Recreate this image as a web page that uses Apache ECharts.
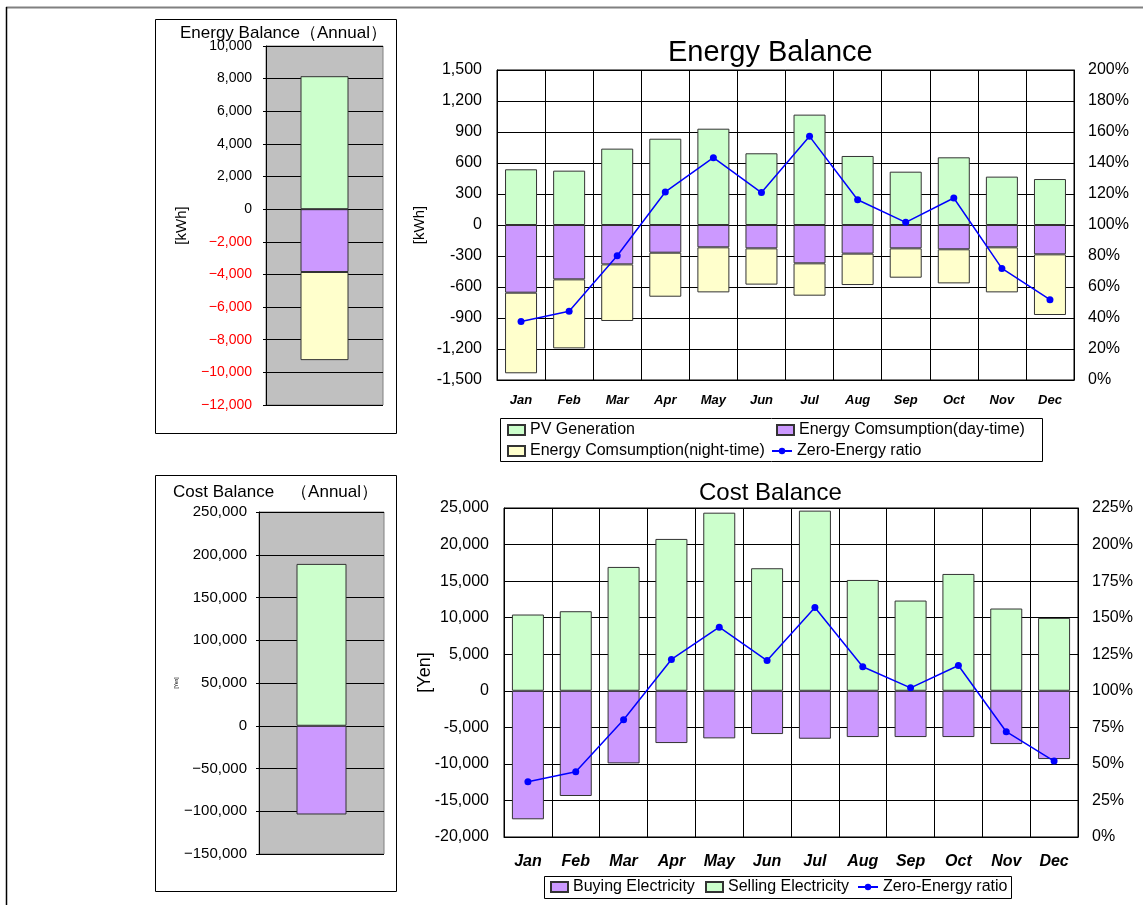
<!DOCTYPE html>
<html>
<head>
<meta charset="utf-8">
<title>Energy / Cost Balance</title>
<script src="https://cdn.jsdelivr.net/npm/echarts@6/dist/echarts.min.js"></script>
<style>
    html, body { margin: 0; padding: 0; background: #fff; }
    #main { width: 1143px; height: 905px; }
</style>
</head>
<body>
<div id="main"></div>
<script>
// months on both monthly charts
var months = ['Jan', 'Feb', 'Mar', 'Apr', 'May', 'Jun', 'Jul', 'Aug', 'Sep', 'Oct', 'Nov', 'Dec'];

// energy balance [kWh]
var pvGen = [539, 526, 739, 835, 932, 694, 1068, 668, 516, 655, 468, 445];
var dayUse = [-655, -526, -381, -268, -216, -226, -371, -277, -226, -235, -216, -284];
var nightUse = [-780, -668, -548, -426, -436, -351, -313, -304, -284, -330, -436, -587];
var energyRatio = [37.8, 44.3, 80.2, 121.3, 143.4, 120.9, 157.2, 116.3, 101.7, 117.4, 72.0, 51.8];

// annual energy [kWh]
var annualPv = [8150];
var annualDay = [-3850];
var annualNight = [-5400];

// cost balance [Yen]
var sellCost = [10430, 10880, 16940, 20770, 24360, 16760, 24640, 15160, 12340, 15980, 11250, 9970];
var buyCost = [-17580, -14390, -9930, -7150, -6510, -5920, -6560, -6330, -6330, -6330, -7290, -9340];
var costRatio = [37.8, 44.6, 80.2, 121.4, 143.5, 120.7, 156.9, 116.4, 102.0, 117.3, 72.0, 51.9];

// annual cost [Yen]
var annualSell = [189300];
var annualBuy = [-103800];

var FONT = 'Liberation Sans, Arial, sans-serif';
var GREEN = '#ccffcc', PURPLE = '#cc99ff', YELLOW = '#ffffcc', BLUE = '#0000ff';

function fmt(v) { return v.toLocaleString('en-US'); }
function fmtMinus(v) { return fmt(v).replace('-', '\u2212'); }

var barBorder = { borderColor: '#333', borderWidth: 1 };
var legendText = { fontFamily: FONT, fontSize: 16, color: '#000' };

// one legend box per item, excel puts them in fixed columns
function legendItem(name, left, top, isLine) {
    return {
        data: [name], left: left, top: top, padding: 0, itemGap: 0,
        icon: isLine ? undefined : 'rect',
        itemWidth: isLine ? 20 : 17, itemHeight: isLine ? 8 : 10,
        textStyle: legendText
    };
}

var myChart = echarts.init(document.getElementById('main'));

var option = {
    animation: false,
    backgroundColor: '#fff',
    textStyle: { fontFamily: FONT },
    title: [
        { text: 'Energy Balance\uff08Annual\uff09', left: 175, top: 20,
          textStyle: { fontFamily: FONT, fontSize: 17, fontWeight: 'normal', color: '#000' } },
        { text: 'Energy Balance', left: 668, top: 38, padding: 0,
          textStyle: { fontFamily: FONT, fontSize: 29, fontWeight: 'normal', color: '#000' } },
        { text: 'Cost Balance\u3000\uff08Annual\uff09', left: 168, top: 479,
          textStyle: { fontFamily: FONT, fontSize: 17, fontWeight: 'normal', color: '#000' } },
        { text: 'Cost Balance', left: 699, top: 481, padding: 0,
          textStyle: { fontFamily: FONT, fontSize: 24, fontWeight: 'normal', color: '#000' } }
    ],
    legend: [
        legendItem('PV Generation', 507, 422),
        legendItem('Energy Comsumption(day-time)', 776, 422),
        legendItem('Energy Comsumption(night-time)', 507, 443),
        legendItem('Zero-Energy ratio', 771, 443, true),
        legendItem('Buying Electricity', 550, 879),
        legendItem('Selling Electricity', 705, 879),
        legendItem('Zero-Energy ratio', 857, 879, true)
    ],
    graphic: [
        // outer frame
        { type: 'line', shape: { x1: 6, y1: 7.5, x2: 1143, y2: 7.5 }, style: { stroke: '#808080', lineWidth: 2 } },
        { type: 'line', shape: { x1: 6.5, y1: 7, x2: 6.5, y2: 905 }, style: { stroke: '#000', lineWidth: 1.5 } },
        // annual panels
        { type: 'rect', shape: { x: 155.5, y: 19.5, width: 241, height: 414 }, style: { fill: null, stroke: '#000', lineWidth: 1 } },
        { type: 'rect', shape: { x: 155.5, y: 475.5, width: 241, height: 416 }, style: { fill: null, stroke: '#000', lineWidth: 1 } },
        // legend boxes
        { type: 'rect', shape: { x: 500.5, y: 418.5, width: 542, height: 43 }, style: { fill: null, stroke: '#000', lineWidth: 1 } },
        { type: 'rect', shape: { x: 544.5, y: 876.5, width: 467, height: 22 }, style: { fill: null, stroke: '#000', lineWidth: 1 } }
    ],
    grid: [
        { left: 266, top: 46, width: 117, height: 359, show: true, backgroundColor: '#c0c0c0', borderColor: '#808080', borderWidth: 1 },
        { left: 497, top: 70, width: 577, height: 310, show: true, borderColor: '#000', borderWidth: 1 },
        { left: 259, top: 512, width: 125, height: 342, show: true, backgroundColor: '#c0c0c0', borderColor: '#808080', borderWidth: 1 },
        { left: 504, top: 508, width: 574, height: 329, show: true, borderColor: '#000', borderWidth: 1 }
    ],
    xAxis: [
        { type: 'category', gridIndex: 0, data: ['Annual'], axisLabel: { show: false }, axisTick: { show: false },
          axisLine: { show: false }, splitLine: { show: false } },
        { type: 'category', gridIndex: 1, data: months,
          axisLine: { onZero: false, lineStyle: { color: '#000' } }, axisTick: { show: false },
          splitLine: { show: true, lineStyle: { color: '#000', width: 1 } },
          axisLabel: { fontFamily: FONT, fontSize: 13, fontWeight: 'bold', fontStyle: 'italic', color: '#000', margin: 14 } },
        { type: 'category', gridIndex: 2, data: ['Annual'], axisLabel: { show: false }, axisTick: { show: false },
          axisLine: { show: false }, splitLine: { show: false } },
        { type: 'category', gridIndex: 3, data: months,
          axisLine: { onZero: false, lineStyle: { color: '#000' } }, axisTick: { show: false },
          splitLine: { show: true, lineStyle: { color: '#000', width: 1 } },
          axisLabel: { fontFamily: FONT, fontSize: 16, fontWeight: 'bold', fontStyle: 'italic', color: '#000', margin: 17 } }
    ],
    yAxis: [
        { type: 'value', gridIndex: 0, min: -12000, max: 10000, interval: 2000,
          name: '[kWh]', nameLocation: 'middle', nameGap: 77, nameRotate: 90, nameMoveOverlap: false,
          nameTextStyle: { fontFamily: FONT, fontSize: 15, color: '#000' },
          axisLine: { show: true, lineStyle: { color: '#000' } },
          axisTick: { show: true, length: 3, lineStyle: { color: '#000' } },
          splitLine: { lineStyle: { color: '#000', width: 1 } },
          axisLabel: { fontFamily: FONT, fontSize: 14, margin: 14, formatter: fmtMinus,
              color: function (v) { return v < 0 ? '#ff0000' : '#000'; } } },
        { type: 'value', gridIndex: 1, min: -1500, max: 1500, interval: 300,
          name: '[kWh]', nameLocation: 'middle', nameGap: 70, nameRotate: 90, nameMoveOverlap: false,
          nameTextStyle: { fontFamily: FONT, fontSize: 15, color: '#000' },
          axisLine: { show: true, lineStyle: { color: '#000' } }, axisTick: { show: false },
          splitLine: { lineStyle: { color: '#000', width: 1 } },
          axisLabel: { fontFamily: FONT, fontSize: 16, margin: 15, color: '#000', formatter: fmt } },
        { type: 'value', gridIndex: 1, position: 'right', min: 0, max: 200, interval: 20,
          axisLine: { show: true, lineStyle: { color: '#000' } }, axisTick: { show: false },
          splitLine: { show: false },
          axisLabel: { fontFamily: FONT, fontSize: 16, margin: 14, color: '#000', formatter: '{value}%' } },
        { type: 'value', gridIndex: 2, min: -150000, max: 250000, interval: 50000,
          name: '[Yen]', nameLocation: 'middle', nameGap: 80, nameRotate: 90, nameMoveOverlap: false,
          nameTextStyle: { fontFamily: FONT, fontSize: 5, color: '#000' },
          axisLine: { show: true, lineStyle: { color: '#000' } },
          axisTick: { show: true, length: 3, lineStyle: { color: '#000' } },
          splitLine: { lineStyle: { color: '#000', width: 1 } },
          axisLabel: { fontFamily: FONT, fontSize: 15, margin: 12, color: '#000', formatter: fmtMinus } },
        { type: 'value', gridIndex: 3, min: -20000, max: 25000, interval: 5000,
          name: '[Yen]', nameLocation: 'middle', nameGap: 70, nameRotate: 90, nameMoveOverlap: false,
          nameTextStyle: { fontFamily: FONT, fontSize: 18, color: '#000' },
          axisLine: { show: true, lineStyle: { color: '#000' } }, axisTick: { show: false },
          splitLine: { lineStyle: { color: '#000', width: 1 } },
          axisLabel: { fontFamily: FONT, fontSize: 16, margin: 15, color: '#000', formatter: fmt } },
        { type: 'value', gridIndex: 3, position: 'right', min: 0, max: 225, interval: 25,
          axisLine: { show: true, lineStyle: { color: '#000' } }, axisTick: { show: false },
          splitLine: { show: false },
          axisLabel: { fontFamily: FONT, fontSize: 16, margin: 14, color: '#000', formatter: '{value}%' } }
    ],
    series: [
        // annual energy
        { name: 'PV Generation', type: 'bar', xAxisIndex: 0, yAxisIndex: 0, stack: 'ea', barWidth: 48,
          data: annualPv, itemStyle: Object.assign({ color: GREEN }, barBorder) },
        { name: 'Energy Comsumption(day-time)', type: 'bar', xAxisIndex: 0, yAxisIndex: 0, stack: 'ea', barWidth: 48,
          data: annualDay, itemStyle: Object.assign({ color: PURPLE }, barBorder) },
        { name: 'Energy Comsumption(night-time)', type: 'bar', xAxisIndex: 0, yAxisIndex: 0, stack: 'ea', barWidth: 48,
          data: annualNight, itemStyle: Object.assign({ color: YELLOW }, barBorder) },
        // monthly energy
        { name: 'PV Generation', type: 'bar', xAxisIndex: 1, yAxisIndex: 1, stack: 'e', barWidth: 32,
          data: pvGen, itemStyle: Object.assign({ color: GREEN }, barBorder) },
        { name: 'Energy Comsumption(day-time)', type: 'bar', xAxisIndex: 1, yAxisIndex: 1, stack: 'e', barWidth: 32,
          data: dayUse, itemStyle: Object.assign({ color: PURPLE }, barBorder) },
        { name: 'Energy Comsumption(night-time)', type: 'bar', xAxisIndex: 1, yAxisIndex: 1, stack: 'e', barWidth: 32,
          data: nightUse, itemStyle: Object.assign({ color: YELLOW }, barBorder) },
        { name: 'Zero-Energy ratio', type: 'line', xAxisIndex: 1, yAxisIndex: 2, data: energyRatio,
          symbol: 'circle', symbolSize: 7, itemStyle: { color: BLUE }, lineStyle: { color: BLUE, width: 1.5 } },
        // annual cost
        { name: 'Selling Electricity', type: 'bar', xAxisIndex: 2, yAxisIndex: 3, stack: 'ca', barWidth: 50,
          data: annualSell, itemStyle: Object.assign({ color: GREEN }, barBorder) },
        { name: 'Buying Electricity', type: 'bar', xAxisIndex: 2, yAxisIndex: 3, stack: 'ca', barWidth: 50,
          data: annualBuy, itemStyle: Object.assign({ color: PURPLE }, barBorder) },
        // monthly cost
        { name: 'Buying Electricity', type: 'bar', xAxisIndex: 3, yAxisIndex: 4, stack: 'c', barWidth: 32,
          data: buyCost, itemStyle: Object.assign({ color: PURPLE }, barBorder) },
        { name: 'Selling Electricity', type: 'bar', xAxisIndex: 3, yAxisIndex: 4, stack: 'c', barWidth: 32,
          data: sellCost, itemStyle: Object.assign({ color: GREEN }, barBorder) },
        { name: 'Zero-Energy ratio', type: 'line', xAxisIndex: 3, yAxisIndex: 5, data: costRatio,
          symbol: 'circle', symbolSize: 7, itemStyle: { color: BLUE }, lineStyle: { color: BLUE, width: 1.5 } }
    ]
};

myChart.setOption(option);
</script>
</body>
</html>
